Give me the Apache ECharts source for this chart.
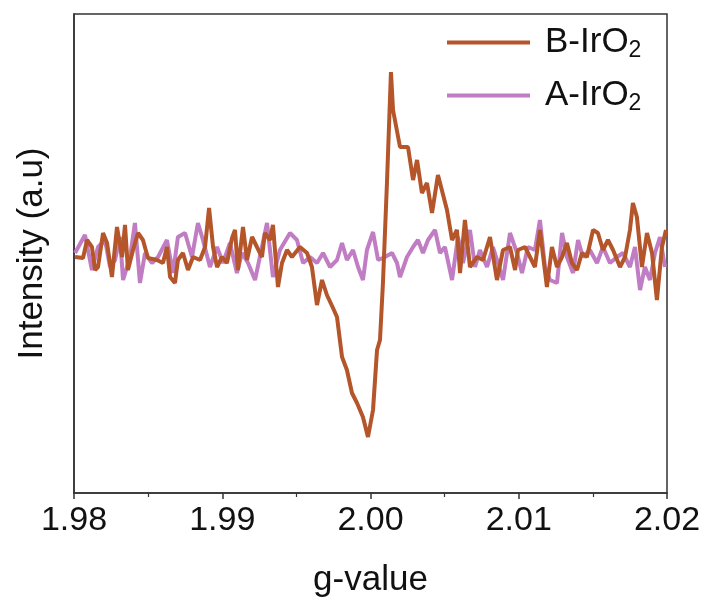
<!DOCTYPE html>
<html>
<head>
<meta charset="utf-8">
<script src="https://cdn.jsdelivr.net/npm/echarts@6/dist/echarts.min.js"></script>
<style>html,body{margin:0;padding:0;background:#fff}#chart{width:708px;height:606px}</style>
</head>
<body>
<div id="chart"></div>
<script>
// g-value (x) and intensity (a.u.) for each series
const bG = [1.98007,1.98061,1.98088,1.98121,1.98142,1.98162,1.98196,1.98223,1.98256,1.98290,1.98324,1.98344,1.98364,1.98398,1.98432,1.98465,1.98499,1.98560,1.98600,1.98627,1.98648,1.98681,1.98701,1.98735,1.98769,1.98803,1.98850,1.98884,1.98911,1.98938,1.98965,1.98998,1.99032,1.99066,1.99086,1.99106,1.99140,1.99167,1.99201,1.99234,1.99268,1.99288,1.99322,1.99342,1.99376,1.99403,1.99437,1.99470,1.99524,1.99572,1.99605,1.99639,1.99673,1.99706,1.99747,1.99774,1.99808,1.99841,1.99875,1.99909,1.99949,1.99983,2.00017,2.00044,2.00064,2.00084,2.00111,2.00138,2.00152,2.00199,2.00253,2.00287,2.00314,2.00347,2.00381,2.00415,2.00455,2.00516,2.00550,2.00583,2.00604,2.00637,2.00671,2.00718,2.00759,2.00806,2.00853,2.00894,2.00941,2.00975,2.00995,2.01042,2.01076,2.01109,2.01143,2.01190,2.01224,2.01258,2.01292,2.01325,2.01359,2.01393,2.01426,2.01460,2.01501,2.01534,2.01568,2.01602,2.01636,2.01683,2.01717,2.01750,2.01770,2.01797,2.01831,2.01865,2.01899,2.01932,2.01966,2.01993];
const bI = [-4,-5,13,6,-17,-14,20,10,-24,26,-4,28,-17,3,20,13,-5,-7,-10,6,-24,-30,-7,0,-17,-4,-7,6,45,6,-14,-4,-10,15,23,-17,26,-7,16,6,-4,20,13,28,-34,-10,3,-4,6,0,-14,-52,-27,-42,-55,-64,-104,-117,-140,-150,-164,-184,-157,-97,-87,-30,70,181,143,106,106,73,93,60,70,40,78,43,13,23,-20,33,-14,-4,-7,16,-27,3,6,-17,3,6,-4,-14,23,-34,6,-14,-4,10,-10,-17,0,-4,23,20,3,13,3,-14,-4,23,50,36,-14,20,0,-47,6,23];
const aG = [1.98007,1.98074,1.98121,1.98162,1.98209,1.98243,1.98277,1.98310,1.98331,1.98378,1.98411,1.98445,1.98479,1.98526,1.98567,1.98627,1.98668,1.98701,1.98749,1.98796,1.98836,1.98870,1.98917,1.98965,1.99005,1.99052,1.99099,1.99133,1.99174,1.99221,1.99268,1.99302,1.99342,1.99389,1.99457,1.99504,1.99545,1.99592,1.99639,1.99680,1.99727,1.99774,1.99808,1.99841,1.99882,1.99916,1.99949,1.99976,2.00017,2.00051,2.00098,2.00145,2.00179,2.00199,2.00246,2.00287,2.00320,2.00354,2.00388,2.00435,2.00469,2.00502,2.00550,2.00590,2.00624,2.00671,2.00705,2.00738,2.00786,2.00826,2.00860,2.00894,2.00941,2.00988,2.01022,2.01062,2.01109,2.01143,2.01177,2.01211,2.01258,2.01292,2.01325,2.01366,2.01400,2.01433,2.01480,2.01528,2.01568,2.01615,2.01663,2.01703,2.01750,2.01784,2.01818,2.01851,2.01885,2.01919,2.01953,2.01986];
const aI = [0,18,-17,6,13,-14,-7,16,-27,-4,30,-30,0,-10,-4,13,-20,16,20,-4,30,13,-14,6,-10,10,-20,0,-10,-27,6,30,-24,3,20,13,-10,-4,-10,0,-14,-7,10,-7,3,-14,-27,3,21,-7,-4,0,-10,-24,-4,6,13,0,13,23,0,6,-27,16,-10,23,-14,3,-14,6,-10,-27,20,0,-20,6,3,33,-14,-27,-30,20,-4,-20,13,-4,3,-10,6,-10,-4,0,-14,6,-37,-14,-27,0,16,-14];
const seriesNames = ['B-IrO2', 'A-IrO2'];
const xTicks = [1.98, 1.99, 2.00, 2.01, 2.02];

const zip = (g, v) => g.map((x, i) => [x, v[i]]);
const FONT = '"Liberation Sans", Arial, sans-serif';
const chart = echarts.init(document.getElementById('chart'), null, {renderer: 'canvas'});
chart.setOption({
  animation: false,
  backgroundColor: '#fff',
  textStyle: {fontFamily: FONT},
  grid: {left: 74, right: 41, top: 14, bottom: 113, show: true, borderColor: '#333', borderWidth: 1.5, backgroundColor: 'transparent'},
  legend: {
    show: true,
    orient: 'vertical', left: 442, top: 18, itemWidth: 83, itemHeight: 4, itemGap: 14,
    icon: 'rect',
    data: seriesNames,
    formatter: function (n) { return n.replace('O2', 'O{sub|2}'); },
    textStyle: {fontFamily: FONT, fontSize: 35, lineHeight: 37, color: '#111', padding: [0, 0, 0, 10],
      rich: {sub: {fontFamily: FONT, fontSize: 23, lineHeight: 37, color: '#111', padding: [16, 0, 0, 0]}}}
  },
  xAxis: {
    type: 'value', min: 1.98, max: 2.02, interval: 0.01,
    axisLine: {show: true, onZero: false, lineStyle: {color: '#333', width: 1.5}},
    axisTick: {show: true, inside: false, length: 6, lineStyle: {color: '#333', width: 1.5}},
    minorTick: {show: true, splitNumber: 2, length: 4, lineStyle: {color: '#333', width: 1.2}},
    splitLine: {show: false},
    axisLabel: {fontFamily: FONT, fontSize: 34, color: '#111', margin: 11,
      formatter: function (v) { const t = xTicks.find(x => Math.abs(x - v) < 1e-6); return t !== undefined ? t.toFixed(2) : ''; }},
    name: 'g-value', nameLocation: 'middle', nameGap: 70,
    nameTextStyle: {fontFamily: FONT, fontSize: 35, color: '#111'}
  },
  yAxis: {
    type: 'value', min: -240, max: 239,
    axisLine: {show: true, onZero: false, lineStyle: {color: '#333', width: 1.5}},
    axisTick: {show: false}, axisLabel: {show: false}, splitLine: {show: false},
    name: 'Intensity (a.u)', nameLocation: 'middle', nameGap: 24,
    nameTextStyle: {fontFamily: FONT, fontSize: 35, color: '#111'}
  },
  series: [
    {name: 'B-IrO2', type: 'line', data: zip(bG, bI), symbol: 'none', showSymbol: false, z: 3,
      lineStyle: {color: '#B4552A', width: 4}, itemStyle: {color: '#B4552A'}},
    {name: 'A-IrO2', type: 'line', data: zip(aG, aI), symbol: 'none', showSymbol: false, z: 2,
      lineStyle: {color: '#C07DC3', width: 4}, itemStyle: {color: '#C07DC3'}}
  ]
});
</script>
</body>
</html>
